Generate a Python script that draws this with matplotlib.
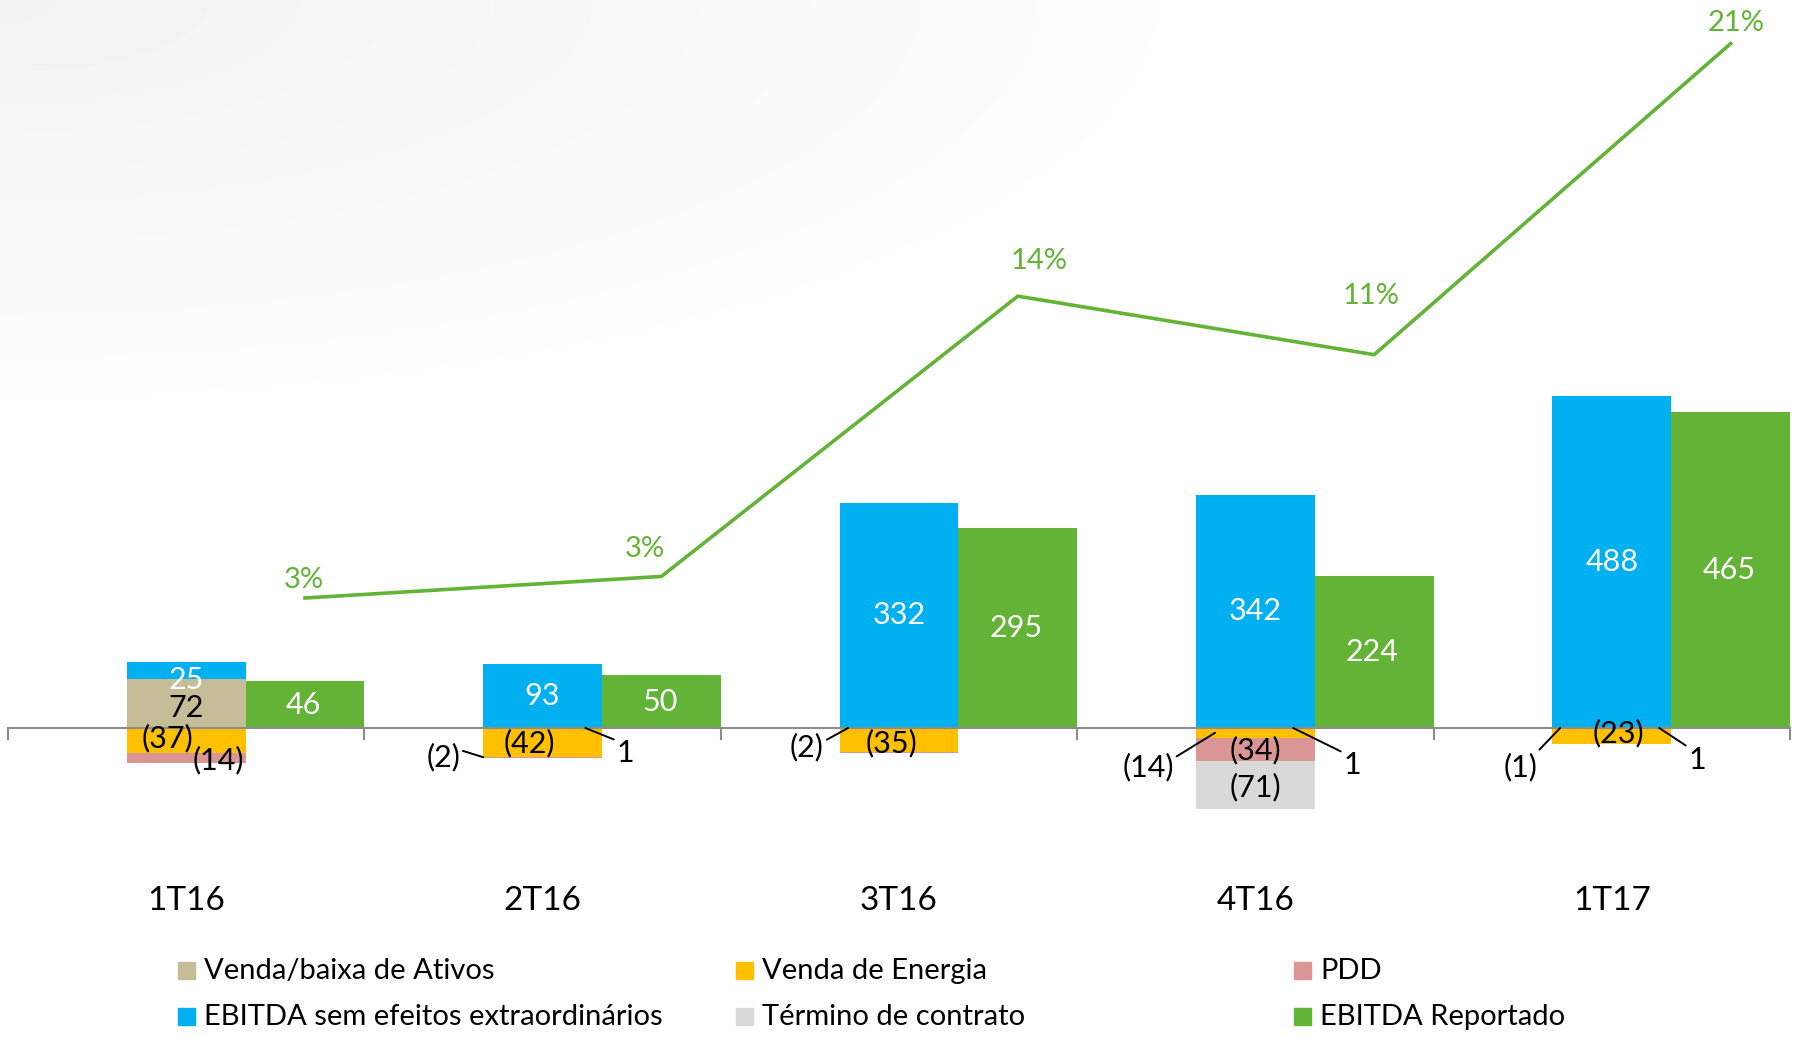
import numpy as np
import matplotlib
matplotlib.use("Agg")
import matplotlib.pyplot as plt
from matplotlib.patches import Rectangle

plt.rcParams['font.family'] = ['Lato', 'DejaVu Sans']

# ==============================
# DADOS
# ==============================
trimestres = ["1T16", "2T16", "3T16", "4T16", "1T17"]

venda_ativos = [72, 1, 0, 1, 1]
ebitda_sem_efeitos = [25, 93, 332, 342, 488]
venda_energia = [-37, -42, -35, -14, -23]
pdd = [-14, -2, -2, -34, -1]
termino_contrato = [0, 0, 0, -71, 0]
ebitda_reportado = [69, 78, 295, 224, 465]   # altura como desenhada
ebitda_rep_rotulos = ["46", "50", "295", "224", "465"]

margem = [3.0, 3.7, 12.8, 10.9, 21.0]
margem_rotulos = ["3%", "3%", "14%", "11%", "21%"]

# cores
c_ativos = "#C4BD97"
c_sem = "#00B0F0"
c_energia = "#FFC000"
c_pdd = "#DA9694"
c_termino = "#D9D9D9"
c_rep = "#62B336"

W, H = 1796, 1037
fig = plt.figure(figsize=(W / 100, H / 100), dpi=100)

# fundo com gradiente cinza claro
bg = fig.add_axes([0, 0, 1, 1], zorder=-5)
gx, gy = np.meshgrid(np.arange(W), np.arange(H))
t = np.clip(np.sqrt((gx / 1400.0) ** 2 + (gy / 480.0) ** 2), 0, 1)
bg.imshow(0.945 + 0.055 * t ** 0.8, cmap="gray", vmin=0, vmax=1,
          aspect="auto", extent=(0, W, H, 0))
bg.axis("off")

# ==============================
# EIXO PRINCIPAL
# ==============================
ax = fig.add_axes([8 / W, 0, 1782 / W, 1], zorder=1)
ax.patch.set_alpha(0)
px_un = 0.679
ax.set_ylim(-(H - 728) / px_un, 728 / px_un)
ax.set_xlim(-0.5, 4.5)

x = np.arange(len(trimestres))
w = 1 / 3

base_neg2 = np.add(venda_energia, pdd)
ax.bar(x, venda_ativos, w, color=c_ativos)
ax.bar(x, ebitda_sem_efeitos, w, bottom=venda_ativos, color=c_sem)
ax.bar(x, venda_energia, w, color=c_energia)
ax.bar(x, pdd, w, bottom=venda_energia, color=c_pdd)
ax.bar(x, termino_contrato, w, bottom=base_neg2, color=c_termino)
ax.bar(x + w, ebitda_reportado, w, color=c_rep)

for s in ["top", "left", "right"]:
    ax.spines[s].set_visible(False)
ax.spines["bottom"].set_position(("data", 0))
ax.spines["bottom"].set_color("#8C8C8C")
ax.spines["bottom"].set_linewidth(1.5)
ax.set_xticks(np.arange(-0.5, 5, 1))
ax.tick_params(axis="x", direction="out", length=8.5, width=1.5,
               color="#8C8C8C", labelbottom=False)
ax.set_yticks([])

# rótulos das categorias
for i, tri in enumerate(trimestres):
    ax.text(i, -(901 - 728) / px_un, tri, ha="center", va="center",
            fontsize=24, color="black")

# rótulos dentro das barras
fs = 22
for i in range(1, 5):
    ax.text(i, venda_ativos[i] + ebitda_sem_efeitos[i] / 2,
            str(ebitda_sem_efeitos[i]), ha="center", va="center",
            fontsize=fs, color="white")
ax.text(0, venda_ativos[0] - 1, str(ebitda_sem_efeitos[0]), ha="center",
        va="center", fontsize=fs, color="white")
ax.text(0, 30, str(venda_ativos[0]), ha="center", va="center",
        fontsize=fs, color="black")
for i in range(5):
    ax.text(i + w - 0.005, ebitda_reportado[i] / 2, ebitda_rep_rotulos[i],
            ha="center", va="center", fontsize=fs, color="white")

rotulos_neg = [
    (-0.053, -15, "(37)"),
    (0.09, -47, "(14)"),
    (0.962, -22, "(42)"),
    (1.98, -22, "(35)"),
    (3.0, -32, "(34)"),
    (3.0, -87, "(71)"),
    (4.018, -7, "(23)"),
]
for xx, yy, txt in rotulos_neg:
    ax.text(xx, yy, txt, ha="center", va="center", fontsize=fs,
            color="black")

# rótulos com linha de chamada
chamadas = [
    ("(2)", (0.721, -43), (1 - w / 2, -43), (1, 0.75)),
    ("1", (1.232, -37), (1.12, 0), (0, 0.95)),
    ("(2)", (1.742, -28), (1.857, 0), (1, 0.7)),
    ("(14)", (2.699, -57), (2.887, -7), (1, 0.8)),
    ("1", (3.272, -55), (3.106, 0), (0, 0.95)),
    ("(1)", (3.743, -57), (3.855, 0), (0.95, 0.95)),
    ("1", (4.24, -47), (4.133, 0), (0, 0.95)),
]
for txt, pos, alvo, rel in chamadas:
    ax.annotate(txt, xy=alvo, xytext=pos, ha="center", va="center",
                fontsize=fs, color="black",
                arrowprops=dict(arrowstyle="-", color="black", lw=1.4,
                                shrinkA=0, shrinkB=0, relpos=rel))

# ==============================
# MARGEM (linha)
# ==============================
ax2 = ax.twinx()
ax2.set_ylim((690.4 - H) / 30.8, 690.4 / 30.8)
ax2.axis("off")
ax2.plot(x + w, margem, color=c_rep, lw=2.6)
desloc = [(-1, 13), (-12, 20), (15, 25), (-2, 42), (4, 15)]
for i in range(5):
    ax2.annotate(margem_rotulos[i], (x[i] + w, margem[i]),
                 xytext=desloc[i], textcoords="offset points",
                 ha="center", va="center", fontsize=21, color=c_rep)

# ==============================
# LEGENDA
# ==============================
itens = [
    ("Venda/baixa de Ativos", c_ativos, 178, 971),
    ("Venda de Energia", c_energia, 736, 971),
    ("PDD", c_pdd, 1294, 971),
    ("EBITDA sem efeitos extraordinários", c_sem, 178, 1017),
    ("Término de contrato", c_termino, 736, 1017),
    ("EBITDA Reportado", c_rep, 1294, 1017),
]
for txt, cor, x0, y0 in itens:
    fig.add_artist(Rectangle((x0 / W, (H - y0 - 8) / H), 17 / W, 17 / H,
                             transform=fig.transFigure, color=cor))
    fig.text((x0 + 26) / W, (H - y0) / H, txt, ha="left", va="center",
             fontsize=21, color="black")

fig.savefig("out.png", dpi=100)
